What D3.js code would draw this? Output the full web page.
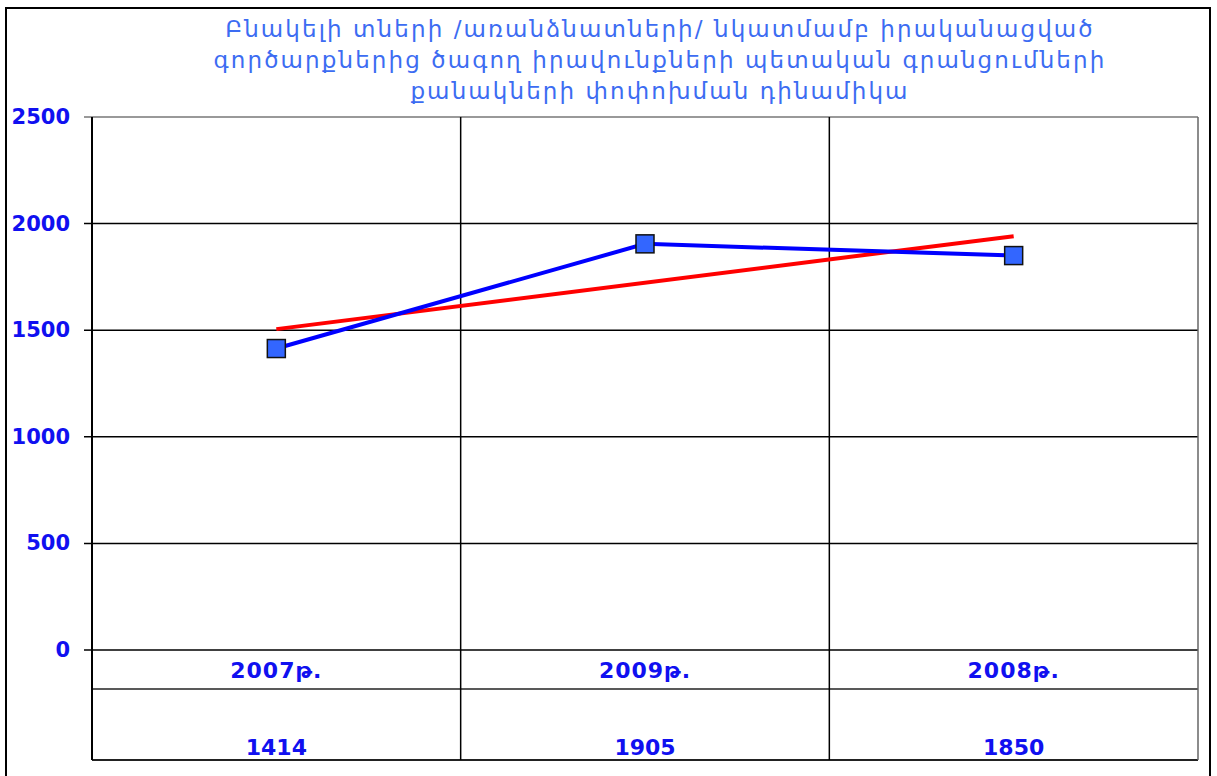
<!DOCTYPE html>
<html>
<head>
<meta charset="utf-8">
<script src="https://cdn.jsdelivr.net/npm/d3@7"></script>
<style>
  body { margin: 0; background: #fff; }
  svg { display: block; }
</style>
</head>
<body>
<div id="wrapper"></div>
<script>
// data
const titleLines = [
  "Բնակելի տների /առանձնատների/ նկատմամբ իրականացված",
  "գործարքներից ծագող իրավունքների պետական գրանցումների",
  "քանակների փոփոխման դինամիկա"
]
const categories = ["2007թ.", "2009թ.", "2008թ."]
const values = [1414, 1905, 1850]
const trendValues = [1505, 1941]   // linear trend at first and last category
const yTicks = [0, 500, 1000, 1500, 2000, 2500]

const dimensions = {
  width: 1217,
  height: 776,
  margin: { top: 117, right: 19, bottom: 126, left: 92 }
}
dimensions.boundedWidth = dimensions.width - dimensions.margin.left - dimensions.margin.right
dimensions.boundedHeight = dimensions.height - dimensions.margin.top - dimensions.margin.bottom

const blueText = "#1010f0"
const fontFam = "'DejaVu Sans', Verdana, sans-serif"

const wrapper = d3.select("#wrapper")
  .append("svg")
    .attr("width", dimensions.width)
    .attr("height", dimensions.height)

// outer frame
wrapper.append("rect")
  .attr("x", 6).attr("y", 8)
  .attr("width", 1204).attr("height", 800)
  .attr("fill", "none")
  .attr("stroke", "#000")
  .attr("stroke-width", 2)

// title
wrapper.append("g")
  .selectAll("text")
  .data(titleLines)
  .join("text")
    .attr("x", 660)
    .attr("y", (d, i) => 37 + i * 31)
    .attr("text-anchor", "middle")
    .attr("font-family", fontFam)
    .attr("font-size", 23)
    .attr("letter-spacing", 2.1)
    .attr("fill", "#3c6cf2")
    .text(d => d)

const bounds = wrapper.append("g")
  .attr("transform", `translate(${dimensions.margin.left},${dimensions.margin.top})`)

// scales
const xScale = d3.scaleBand()
  .domain(categories)
  .range([0, dimensions.boundedWidth])

const yScale = d3.scaleLinear()
  .domain([0, 2500])
  .range([dimensions.boundedHeight, 0])

// horizontal gridlines
bounds.append("g")
  .selectAll("line")
  .data(yTicks)
  .join("line")
    .attr("x1", -8)
    .attr("x2", dimensions.boundedWidth)
    .attr("y1", d => yScale(d))
    .attr("y2", d => yScale(d))
    .attr("stroke", d => d == 2500 ? "#777" : "#000")
    .attr("stroke-width", 1.5)

// y labels
bounds.append("g")
  .selectAll("text")
  .data(yTicks)
  .join("text")
    .attr("x", -22)
    .attr("y", d => yScale(d) + 7)
    .attr("text-anchor", "end")
    .attr("font-family", fontFam)
    .attr("font-weight", "bold")
    .attr("font-size", 21)
    .attr("fill", blueText)
    .text(d => d)

// data table below the plot
const rowLine = dimensions.boundedHeight + 39
const tableBottom = dimensions.boundedHeight + 110

bounds.append("line")
  .attr("x1", 0).attr("x2", dimensions.boundedWidth)
  .attr("y1", rowLine).attr("y2", rowLine)
  .attr("stroke", "#222").attr("stroke-width", 1.5)

bounds.append("line")
  .attr("x1", 0).attr("x2", dimensions.boundedWidth)
  .attr("y1", tableBottom).attr("y2", tableBottom)
  .attr("stroke", "#222").attr("stroke-width", 2)

// vertical lines: left axis, category dividers, right edge
const dividers = categories.map(c => xScale(c)).concat([dimensions.boundedWidth])
bounds.append("g")
  .selectAll("line")
  .data(dividers)
  .join("line")
    .attr("x1", d => d).attr("x2", d => d)
    .attr("y1", 0).attr("y2", tableBottom)
    .attr("stroke", (d, i) => i == dividers.length - 1 ? "#666" : "#000")
    .attr("stroke-width", (d, i) => i == 0 ? 2 : 1.5)

// category and value rows
bounds.append("g")
  .selectAll("text")
  .data(categories)
  .join("text")
    .attr("x", d => xScale(d) + xScale.bandwidth() / 2)
    .attr("y", dimensions.boundedHeight + 28)
    .attr("text-anchor", "middle")
    .attr("font-family", fontFam)
    .attr("font-weight", "bold")
    .attr("font-size", 22)
    .attr("letter-spacing", 1)
    .attr("fill", blueText)
    .text(d => d)

bounds.append("g")
  .selectAll("text")
  .data(values)
  .join("text")
    .attr("x", (d, i) => xScale(categories[i]) + xScale.bandwidth() / 2)
    .attr("y", dimensions.boundedHeight + 105)
    .attr("text-anchor", "middle")
    .attr("font-family", fontFam)
    .attr("font-weight", "bold")
    .attr("font-size", 22)
    .attr("fill", blueText)
    .text(d => d)

const cx = (i) => xScale(categories[i]) + xScale.bandwidth() / 2

// trend line
const lastIdx = categories.length - 1
bounds.append("path")
  .datum(trendValues)
  .attr("d", d3.line()
    .x((d, i) => cx(i == 0 ? 0 : lastIdx))
    .y(d => yScale(d)))
  .attr("fill", "none")
  .attr("stroke", "#ff0000")
  .attr("stroke-width", 4)

// data line
bounds.append("path")
  .datum(values)
  .attr("d", d3.line()
    .x((d, i) => cx(i))
    .y(d => yScale(d)))
  .attr("fill", "none")
  .attr("stroke", "#0000ff")
  .attr("stroke-width", 4)

// markers
bounds.append("g")
  .selectAll("rect")
  .data(values)
  .join("rect")
    .attr("x", (d, i) => cx(i) - 9)
    .attr("y", d => yScale(d) - 9)
    .attr("width", 18)
    .attr("height", 18)
    .attr("fill", "#3366ff")
    .attr("stroke", "#111")
    .attr("stroke-width", 1.5)
</script>
</body>
</html>
